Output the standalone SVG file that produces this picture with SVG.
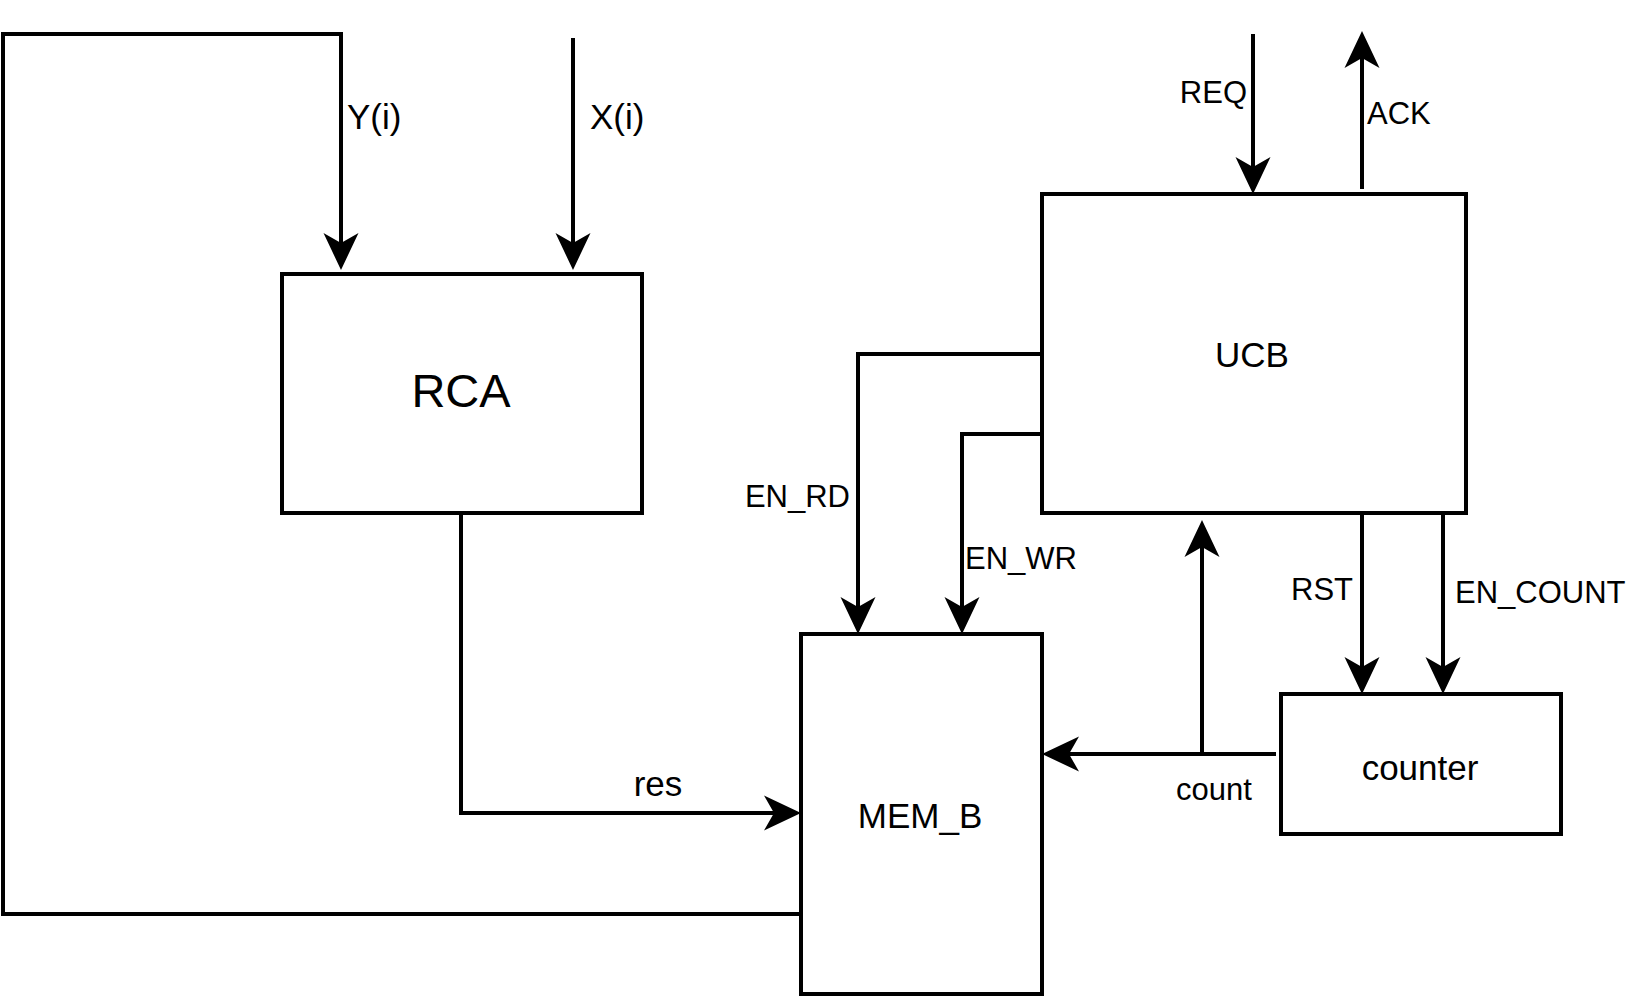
<svg xmlns="http://www.w3.org/2000/svg" width="1632" height="1000" viewBox="0 0 1632 1000">
<style>
.box{fill:#fff;stroke:#000;stroke-width:4}
.wire{fill:none;stroke:#000;stroke-width:4}
.arr{marker-end:url(#ah)}
text{font-family:"Liberation Sans",Arial,Helvetica,sans-serif;fill:#000}
.big{font-size:47px;text-anchor:middle}
.mid{font-size:35px}
.lbl{font-size:31px}
.c{text-anchor:middle}
.e{text-anchor:end}
</style>
<defs>
<marker id="ah" markerUnits="userSpaceOnUse" viewBox="-40 -20 42 40" refX="-27" refY="0" markerWidth="42" markerHeight="40" orient="auto">
<path d="M0,0 L-37,-17.5 L-27,0 L-37,17.5 Z" fill="#000"/>
</marker>
</defs>
<rect width="1632" height="1000" fill="#fff"/>
<g id="connectors">
<path class="wire arr" d="M801,914 L3,914 L3,34 L341,34 L341,243"/>
<path class="wire arr" d="M573,38 L573,243"/>
<path class="wire arr" d="M1253,34 L1253,167"/>
<path class="wire arr" d="M1362,189 L1362,58"/>
<path class="wire arr" d="M1042,354 L858,354 L858,607"/>
<path class="wire arr" d="M1042,434 L962,434 L962,607"/>
<path class="wire arr" d="M1362,513 L1362,667"/>
<path class="wire arr" d="M1443,513 L1443,667"/>
<path class="wire arr" d="M1276,754 L1069,754"/>
<path class="wire arr" d="M1202,754 L1202,547"/>
<path class="wire arr" d="M461,513 L461,813 L774,813"/>
<text class="mid" x="347" y="129">Y(i)</text>
<text class="mid" x="590" y="129">X(i)</text>
<text class="lbl e" x="1247" y="103">REQ</text>
<text class="lbl" x="1367" y="124">ACK</text>
<text class="lbl e" x="850" y="507">EN_RD</text>
<text class="lbl" x="965" y="569">EN_WR</text>
<text class="lbl e" x="1353" y="600">RST</text>
<text class="lbl" x="1455" y="603">EN_COUNT</text>
<text class="lbl c" x="1214" y="800">count</text>
<text class="mid c" x="658" y="796">res</text>
</g>
<g id="RCA">
<rect class="box" x="282" y="274" width="360" height="239"/>
<text class="big" x="461" y="407">RCA</text>
</g>
<g id="UCB">
<rect class="box" x="1042" y="194" width="424" height="319"/>
<text class="mid c" x="1252" y="367">UCB</text>
</g>
<g id="MEM_B">
<rect class="box" x="801" y="634" width="241" height="360"/>
<text class="mid c" x="920" y="828">MEM_B</text>
</g>
<g id="counter">
<rect class="box" x="1281" y="694" width="280" height="140"/>
<text class="mid c" x="1420" y="780">counter</text>
</g>
</svg>
